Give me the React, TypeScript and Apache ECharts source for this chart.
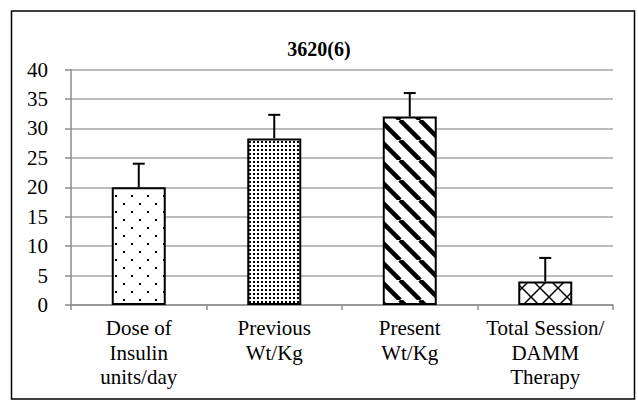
import React, { useEffect, useRef } from "react";
import * as echarts from "echarts";

const titleText = "3620(6)";
const categories = [
  "Dose of\nInsulin\nunits/day",
  "Previous\nWt/Kg",
  "Present\nWt/Kg",
  "Total Session/\nDAMM\nTherapy",
];
const values = [20, 28.3, 32, 4];
const errors = [4, 4, 4, 4];
const yTicks = { min: 0, max: 40, interval: 5 };

function makeTile(size: number, draw: (ctx: CanvasRenderingContext2D) => void) {
  const c = document.createElement("canvas");
  c.width = size;
  c.height = size;
  const ctx = c.getContext("2d")!;
  ctx.fillStyle = "#fff";
  ctx.fillRect(0, 0, size, size);
  ctx.fillStyle = "#000";
  ctx.strokeStyle = "#000";
  draw(ctx);
  return c;
}

function patterns() {
  const sparse = makeTile(16, (ctx) => {
    ctx.fillRect(3, 3, 2, 2);
    ctx.fillRect(11, 11, 2, 2);
  });
  const dense = makeTile(4, (ctx) => {
    ctx.fillRect(1, 1, 2, 2);
  });
  const P = 20;
  const stripes = makeTile(P, (ctx) => {
    ctx.lineWidth = 4.5;
    for (const x0 of [-P, 0, P]) {
      ctx.beginPath();
      ctx.moveTo(x0, 0);
      ctx.lineTo(x0 + P, P);
      ctx.stroke();
    }
  });
  const Q = 18;
  const cross = makeTile(Q, (ctx) => {
    ctx.lineWidth = 1.5;
    ctx.beginPath();
    ctx.moveTo(0, 0);
    ctx.lineTo(Q, Q);
    ctx.moveTo(Q, 0);
    ctx.lineTo(0, Q);
    ctx.stroke();
  });
  return [sparse, dense, stripes, cross];
}

export default function App() {
  const ref = useRef<HTMLDivElement>(null);
  useEffect(() => {
    document.body.style.margin = "0";
    const chart = echarts.init(ref.current!, undefined, { renderer: "svg" });
    const pats = patterns();
    const font = "Liberation Serif";
    chart.setOption({
      animation: false,
      backgroundColor: "#fff",
      title: {
        text: titleText,
        left: "center",
        top: 34,
        textStyle: { fontFamily: font, fontSize: 20, fontWeight: "bold", color: "#000" },
      },
      graphic: [
        {
          type: "rect",
          shape: { x: 11.5, y: 11, width: 623, height: 388 },
          style: { fill: "none", stroke: "#000", lineWidth: 1.5 },
          silent: true,
        },
      ],
      grid: { left: 71, right: 25, top: 69.5, bottom: 97, containLabel: false },
      xAxis: {
        type: "category",
        data: categories,
        boundaryGap: true,
        axisLine: { lineStyle: { color: "#8c8c8c", width: 1.5 } },
        axisTick: { show: true, length: 5, alignWithLabel: false, lineStyle: { color: "#8c8c8c", width: 1.5 } },
        axisLabel: {
          interval: 0,
          margin: 11,
          fontFamily: font,
          fontSize: 21,
          lineHeight: 24.5,
          color: "#000",
        },
      },
      yAxis: {
        type: "value",
        min: yTicks.min,
        max: yTicks.max,
        interval: yTicks.interval,
        axisLine: { show: true, lineStyle: { color: "#8c8c8c", width: 1.5 } },
        axisTick: { show: true, length: 6, lineStyle: { color: "#8c8c8c", width: 1.5 } },
        splitLine: { lineStyle: { color: "#a6a6a6", width: 1.5 } },
        axisLabel: { margin: 23, fontFamily: font, fontSize: 21, color: "#000" },
      },
      series: [
        {
          type: "bar",
          barWidth: 54,
          data: values.map((v, i) => ({
            value: v,
            itemStyle: {
              color: { image: pats[i], repeat: "repeat" },
              borderColor: "#000",
              borderWidth: 2,
            },
          })),
          z: 2,
        },
        {
          type: "custom",
          z: 3,
          data: values.map((v, i) => [i, v, errors[i]]),
          renderItem: (params: any, api: any) => {
            const base = api.coord([api.value(0), api.value(1)]);
            const top = api.coord([api.value(0), api.value(1) + api.value(2)]);
            const style = { stroke: "#000", lineWidth: 2 };
            return {
              type: "group",
              children: [
                { type: "line", shape: { x1: base[0], y1: base[1], x2: top[0], y2: top[1] }, style },
                { type: "line", shape: { x1: top[0] - 6, y1: top[1], x2: top[0] + 6, y2: top[1] }, style },
              ],
            };
          },
        },
      ],
    });
    return () => chart.dispose();
  }, []);
  return <div ref={ref} style={{ width: 638, height: 402 }} />;
}
